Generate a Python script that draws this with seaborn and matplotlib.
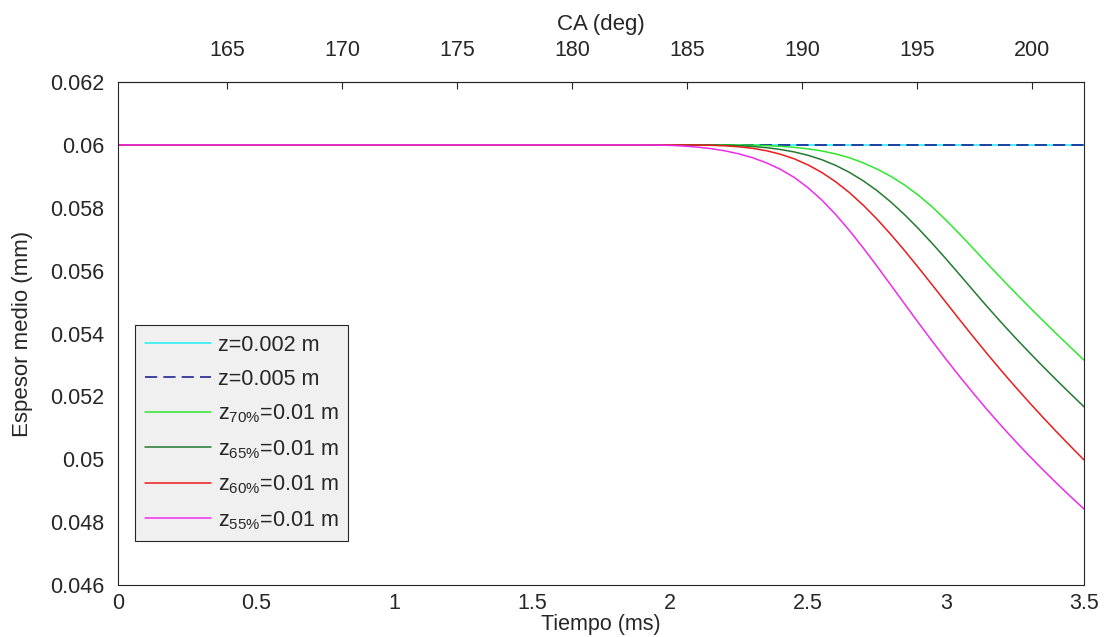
import numpy as np
import pandas as pd
import matplotlib
matplotlib.use("Agg")
import matplotlib.pyplot as plt
import seaborn as sns

# ---- data ----
tiempo_ms = [0.0, 0.5, 1.0, 1.5, 1.8, 1.85, 1.9, 1.95, 2.0, 2.05, 2.1, 2.15, 2.2, 2.25,
             2.3, 2.35, 2.4, 2.45, 2.5, 2.55, 2.6, 2.65, 2.7, 2.75, 2.8, 2.85, 2.9, 2.95,
             3.0, 3.05, 3.1, 3.15, 3.2, 3.25, 3.3, 3.35, 3.4, 3.45, 3.5]
z002 = [0.06] * 39
z005 = [0.06] * 39
z70 = [0.06] * 12 + [0.06, 0.059998, 0.05999, 0.059977, 0.059955, 0.059923, 0.059875,
                     0.059808, 0.059715, 0.059592, 0.05943, 0.059233, 0.059, 0.058725,
                     0.0584, 0.058028, 0.05761, 0.057162, 0.056695, 0.056223, 0.05576,
                     0.055305, 0.05486, 0.054424, 0.053995, 0.053573, 0.053155]
z65 = [0.06] * 10 + [0.06, 0.059998, 0.05999, 0.059975, 0.05995, 0.059912, 0.059855,
                     0.059777, 0.05967, 0.05953, 0.05935, 0.059128, 0.05886, 0.058547,
                     0.058185, 0.057782, 0.05734, 0.056868, 0.056375, 0.055868, 0.055355,
                     0.054848, 0.054355, 0.053878, 0.053415, 0.052965, 0.052525, 0.052094,
                     0.05167]
z60 = [0.06] * 8 + [0.06, 0.059999, 0.059995, 0.059987, 0.05997, 0.05994, 0.05989,
                    0.059814, 0.059705, 0.059558, 0.059365, 0.059124, 0.05883, 0.058484,
                    0.058085, 0.05764, 0.057155, 0.056639, 0.0561, 0.055548, 0.05499,
                    0.054434, 0.053885, 0.053348, 0.052825, 0.052318, 0.051825, 0.051346,
                    0.05088, 0.050425, 0.04998]
z55 = [0.06] * 6 + [0.06, 0.059996, 0.059985, 0.059964, 0.05993, 0.05988, 0.05981,
                    0.059715, 0.05959, 0.059429, 0.059225, 0.058966, 0.05864, 0.058248,
                    0.05779, 0.057279, 0.056725, 0.056143, 0.055545, 0.054943, 0.054345,
                    0.053758, 0.053185, 0.052629, 0.05209, 0.05157, 0.05107, 0.050589,
                    0.050125, 0.049678, 0.049245, 0.048826, 0.04842]

series_labels = ["z=0.002 m", "z=0.005 m", r"z$_{70\%}$=0.01 m", r"z$_{65\%}$=0.01 m",
                 r"z$_{60\%}$=0.01 m", r"z$_{55\%}$=0.01 m"]
series_values = [z002, z005, z70, z65, z60, z55]
series_colors = ["#1EEEF5", "#10108A", "#2EE82E", "#237A30", "#EA1C1C", "#EC2CEC"]
series_dash = ["", (8, 4), "", "", "", ""]

ca_ticks = [165, 170, 175, 180, 185, 190, 195, 200]
ca_offset = 160.25   # CA at t = 0
ca_rate = 12.0       # deg per ms

# ---- style ----
sns.set_style("white")
plt.rcParams["font.family"] = ["Liberation Sans", "DejaVu Sans"]
plt.rcParams["mathtext.default"] = "regular"
plt.rcParams["mathtext.fontset"] = "custom"
plt.rcParams["mathtext.rm"] = "Liberation Sans"
plt.rcParams["mathtext.it"] = "Liberation Sans"

TICK_FS = 15.5
LAB_FS = 15.5
tc = "#262626"

fig = plt.figure(figsize=(11.07, 6.37), dpi=100)
ax = fig.add_axes([0.1066, 0.0816, 0.8726, 0.7896])

for lab, vals, col, dsh in zip(series_labels, series_values, series_colors, series_dash):
    df = pd.DataFrame({"t": tiempo_ms, "v": vals})
    sns.lineplot(data=df, x="t", y="v", ax=ax, color=col, label=lab, linewidth=1.1)
    if dsh:
        ax.lines[-1].set_dashes(dsh)

ax.set_xlim(0, 3.5)
ax.set_ylim(0.046, 0.062)
ax.set_xticks([0, 0.5, 1, 1.5, 2, 2.5, 3, 3.5])
ax.set_xticklabels(["0", "0.5", "1", "1.5", "2", "2.5", "3", "3.5"])
ax.set_yticks(np.arange(0.046, 0.0621, 0.002))
ax.set_yticklabels(["0.046", "0.048", "0.05", "0.052", "0.054", "0.056", "0.058", "0.06", "0.062"])
ax.tick_params(axis="both", direction="in", length=5, width=0.8, colors=tc,
               labelsize=TICK_FS, labelcolor=tc)
ax.tick_params(axis="x", top=False, pad=6)
ax.tick_params(axis="y", right=False, pad=10)
for s in ax.spines.values():
    s.set_color(tc)
    s.set_linewidth(0.8)
ax.set_xlabel("Tiempo (ms)", fontsize=LAB_FS, color=tc, labelpad=-0.5)
ax.set_ylabel("Espesor medio (mm)", fontsize=16, color=tc, labelpad=12)

sec = ax.secondary_xaxis("top", functions=(lambda t: ca_offset + ca_rate * t,
                                            lambda c: (c - ca_offset) / ca_rate))
sec.set_xticks(ca_ticks)
sec.set_xticklabels([str(c) for c in ca_ticks])
sec.tick_params(direction="in", length=5, width=0.8, colors=tc, labelsize=TICK_FS,
                labelcolor=tc, pad=15)
sec.set_xlabel("CA (deg)", fontsize=16, color=tc, labelpad=7)

leg = ax.legend(loc="lower left", bbox_to_anchor=(0.0176, 0.087), fontsize=15.5,
                frameon=True, fancybox=False, handlelength=3.1, handletextpad=0.3,
                borderpad=0.45, labelspacing=0.6, borderaxespad=0)
leg.get_frame().set_facecolor("#F0F0F0")
leg.get_frame().set_edgecolor("#262626")
leg.get_frame().set_linewidth(0.8)
leg.get_frame().set_alpha(1)

fig.savefig("out.png", dpi=100)
